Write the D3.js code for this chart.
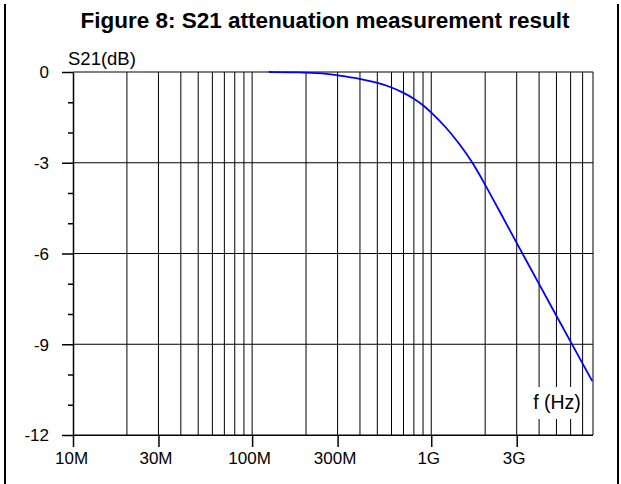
<!DOCTYPE html>
<html>
<head>
<meta charset="utf-8">
<script src="https://cdn.jsdelivr.net/npm/d3@7"></script>
<style>
  body { margin: 0; background: #fff; }
  svg { display: block; font-family: "Liberation Sans", Arial, sans-serif; }
</style>
</head>
<body>
<div id="chart"></div>
<script>
// measured S21 curve, frequency in MHz and attenuation in dB
var freqMHz = [124, 184, 248, 299, 394, 500, 599, 692, 797, 904, 996, 1200, 1440, 1690, 1990, 2500, 2960, 3990, 4990, 5970, 6880, 7930];
var s21dB   = [0, -0.01, -0.04, -0.11, -0.21, -0.35, -0.50, -0.67, -0.87, -1.10, -1.33, -1.80, -2.38, -2.96, -3.70, -4.78, -5.59, -7.00, -8.05, -8.89, -9.56, -10.22];

var yTicks = [0, -3, -6, -9, -12];
var xTickValues = [10, 30, 100, 300, 1000, 3000];
var xTickLabels = ["10M", "30M", "100M", "300M", "1G", "3G"];

var width = 621, height = 484;
var margin = {top: 72, right: 28, bottom: 49, left: 73};

var svg = d3.select("#chart").append("svg")
  .attr("width", width)
  .attr("height", height);

// frame and title
svg.append("line").attr("x1", 5).attr("x2", 5).attr("y1", 4).attr("y2", height)
  .attr("stroke", "#000").attr("stroke-width", 2);
svg.append("line").attr("x1", 618).attr("x2", 618).attr("y1", 4).attr("y2", height)
  .attr("stroke", "#000").attr("stroke-width", 2);

svg.append("text")
  .attr("x", 325).attr("y", 28)
  .attr("text-anchor", "middle")
  .style("font-weight", "bold")
  .style("font-size", "22.5px")
  .text("Figure 8: S21 attenuation measurement result");

var x = d3.scaleLog().domain([10, 8000]).range([margin.left, width - margin.right]);
var y = d3.scaleLinear().domain([-12, 0]).range([height - margin.bottom, margin.top]);

// vertical grid: every 1..9 step of each decade
var gridF = [];
[10, 100, 1000].forEach(function(dec) {
  for (var k = 1; k <= 9; k++) {
    var f = dec * k;
    if (f > 10 && f <= 8000) gridF.push(f);
  }
});

var grid = svg.append("g");
grid.selectAll("line.v")
  .data(gridF)
  .enter().append("line")
  .attr("class", "v")
  .attr("x1", function(d) { return x(d); })
  .attr("x2", function(d) { return x(d); })
  .attr("y1", y(0)).attr("y2", y(-12))
  .attr("stroke", "#000").attr("stroke-width", 1);

grid.selectAll("line.h")
  .data(yTicks)
  .enter().append("line")
  .attr("class", "h")
  .attr("x1", x(10)).attr("x2", x(8000))
  .attr("y1", function(d) { return y(d); })
  .attr("y2", function(d) { return y(d); })
  .attr("stroke", "#000").attr("stroke-width", 1);

// label box for f (Hz), covering the grid
svg.append("rect")
  .attr("x", 533).attr("y", 387).attr("width", 48).attr("height", 32)
  .attr("fill", "#fff");
svg.append("text")
  .attr("x", 557).attr("y", 409)
  .attr("text-anchor", "middle")
  .style("font-size", "19.5px")
  .text("f (Hz)");

// y axis with minor ticks
var yAxis = d3.axisLeft(y)
  .tickValues(d3.range(-12, 1, 1))
  .tickSize(0)
  .tickFormat("");
var yg = svg.append("g")
  .attr("transform", "translate(" + margin.left + ",0)")
  .call(yAxis);
yg.select(".domain").attr("stroke-width", 1.5);
yg.selectAll(".tick line")
  .attr("x2", function(d) { return d % 3 === 0 ? -11 : -5; })
  .attr("stroke-width", 1.5);
yg.selectAll(".tick text")
  .filter(function(d) { return d % 3 === 0; })
  .attr("x", -24)
  .attr("dy", "0.35em")
  .style("font-size", "17px")
  .text(function(d) { return d; });
yg.selectAll(".tick text").filter(function(d) { return d % 3 !== 0; }).remove();
yg.selectAll("text").attr("fill", "#000").attr("font-family", null);

// x axis
var xAxis = d3.axisBottom(x)
  .tickValues(xTickValues)
  .tickSize(12)
  .tickPadding(5)
  .tickFormat(function(d, i) { return xTickLabels[i]; });
var xg = svg.append("g")
  .attr("transform", "translate(0," + y(-12) + ")")
  .call(xAxis);
xg.select(".domain").attr("d", "M" + (x(10) - 11) + ",0.5H" + x(8000));
xg.selectAll(".tick line").attr("stroke-width", 1.5);
xg.selectAll(".tick text")
  .attr("dx", function(d) { return d === 10 ? -2 : -3; })
  .attr("font-family", null)
  .style("font-size", "17px");

// axis title
svg.append("text")
  .attr("x", 68).attr("y", 65)
  .style("font-size", "18.5px")
  .text("S21(dB)");

// curve
var line = d3.line()
  .x(function(d, i) { return x(freqMHz[i]); })
  .y(function(d) { return y(d); })
  .curve(d3.curveBasis);

svg.append("path")
  .datum(s21dB)
  .attr("d", line)
  .attr("fill", "none")
  .attr("stroke", "#0000ff")
  .attr("stroke-width", 1.8);
</script>
</body>
</html>
